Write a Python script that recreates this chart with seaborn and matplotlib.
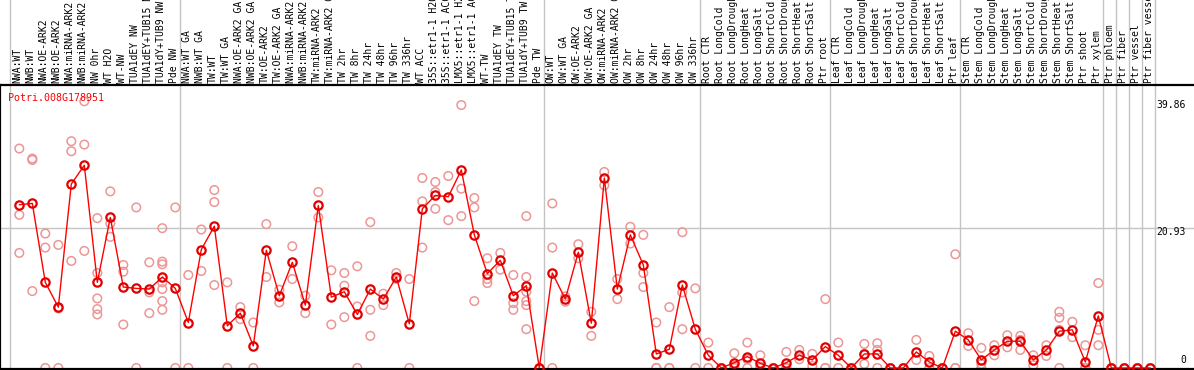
import numpy as np
import pandas as pd
import matplotlib
matplotlib.use('Agg')
import matplotlib.pyplot as plt
import matplotlib.transforms as mtransforms
import seaborn as sns

sns.set_style('white')
plt.rcParams['font.family'] = ['DejaVu Sans Mono', 'DejaVu Sans']

title = 'Potri.008G178951'

labels = [
    'NWA:WT', 'NWB:WT', 'NWA:OE-ARK2', 'NWB:OE-ARK2', 'NWA:miRNA-ARK2', 'NWB:miRNA-ARK2',
    'NW 0hr', 'WT H2O', 'WT-NW', 'TUA1dEY NW', 'TUA1dEY+TUB15 NW', 'TUA1dY+TUB9 NW', 'Pde NW',
    'NWA:WT GA', 'NWB:WT GA', 'TW:WT', 'TW:WT GA', 'NWA:OE-ARK2 GA', 'NWB:OE-ARK2 GA',
    'TW:OE-ARK2', 'TW:OE-ARK2 GA', 'NWA:miRNA-ARK2 GA', 'NWB:miRNA-ARK2 GA', 'TW:miRNA-ARK2',
    'TW:miRNA-ARK2 GA', 'TW 2hr', 'TW 8hr', 'TW 24hr', 'TW 48hr', 'TW 96hr', 'TW 336hr',
    'WT ACC', '35S::etr1-1 H2O', '35S::etr1-1 ACC', 'LMX5::etr1-1 H2O', 'LMX5::etr1-1 ACC',
    'WT-TW', 'TUA1dEY TW', 'TUA1dEY+TUB15 TW', 'TUA1dY+TUB9 TW', 'Pde TW',
    'OW:WT', 'OW:WT GA', 'OW:OE-ARK2', 'OW:OE-ARK2 GA', 'OW:miRNA-ARK2', 'OW:miRNA-ARK2 GA',
    'OW 2hr', 'OW 8hr', 'OW 24hr', 'OW 48hr', 'OW 96hr', 'OW 336hr',
    'Root CTR', 'Root LongCold', 'Root LongDrought', 'Root LongHeat', 'Root LongSalt',
    'Root ShortCold', 'Root ShortDrought', 'Root ShortHeat', 'Root ShortSalt', 'Ptr root',
    'Leaf CTR', 'Leaf LongCold', 'Leaf LongDrought', 'Leaf LongHeat', 'Leaf LongSalt',
    'Leaf ShortCold', 'Leaf ShortDrought', 'Leaf ShortHeat', 'Leaf ShortSalt', 'Ptr leaf',
    'Stem CTR', 'Stem LongCold', 'Stem LongDrought', 'Stem LongHeat', 'Stem LongSalt',
    'Stem ShortCold', 'Stem ShortDrought', 'Stem ShortHeat', 'Stem ShortSalt', 'Ptr shoot',
    'Ptr xylem', 'Ptr phloem', 'Ptr fiber', 'Ptr vessel', 'Ptr fiber vessel',
]

means = [
    24.4, 24.6, 12.8, 9.1, 27.5, 30.3, 12.8, 22.5, 12.1, 11.9, 11.8, 13.6, 11.9,
    6.8, 17.7, 21.2, 6.3, 8.2, 3.3, 17.6, 10.8, 15.8, 9.4, 24.3, 10.6, 11.4, 8.0,
    11.8, 10.3, 13.6, 6.6, 23.8, 25.8, 25.6, 29.6, 19.9, 14.1, 16.1, 10.8, 12.3, 0.0,
    14.2, 10.3, 17.3, 6.7, 28.4, 11.8, 19.9, 15.4, 2.1, 2.8, 12.4, 5.8,
    1.9, 0.0, 0.8, 1.7, 0.7, 0.0, 0.8, 1.9, 1.2, 3.2,
    1.9, 0.0, 2.1, 2.1, 0.0, 0.0, 2.4, 0.9, 0.0, 5.5,
    4.2, 1.2, 2.7, 4.0, 4.0, 1.2, 2.7, 5.5, 5.7, 0.9,
    7.8, 0.0, 0.0, 0.0, 0.0,
]

replicates = [
    [32.8, 22.9, 17.2], [31.3, 31.1, 11.5], [20.1, 18.0, 0], [18.4, 8.9, 0],
    [33.9, 32.4, 16.0], [39.86, 33.4, 17.5], [22.4, 14.2, 10.4, 8.8, 8.0],
    [26.4, 21.6, 19.6], [15.4, 14.4, 6.5], [24.0, 0], [15.8, 11.3, 8.2],
    [20.9, 15.9, 15.5, 12.8, 11.8, 10.0, 8.7], [24.0, 0],
    [13.9, 0], [20.7, 14.5], [26.6, 24.8, 12.4], [12.8, 0], [9.1, 7.3], [6.8, 0],
    [21.5, 13.6], [11.7, 9.8], [18.2, 13.3], [10.8, 8.2], [26.3, 22.5], [14.6, 6.5],
    [14.2, 12.3, 7.6], [15.2, 9.2, 0], [21.8, 8.7, 4.8], [11.1, 9.4], [14.2, 13.3],
    [13.3, 0], [28.4, 24.9, 18.0], [27.8, 26.3, 23.8], [28.7, 22.1],
    [39.3, 26.8, 22.7], [25.4, 24.0, 10.0], [16.4, 13.3, 12.7], [17.2, 14.7],
    [13.9, 9.7, 8.7], [22.7, 13.6, 11.4, 10.0, 9.4, 5.8], [0, 0],
    [24.6, 18.0, 0], [10.7, 9.9], [18.5, 16.4], [8.4, 4.8], [29.3, 27.3], [13.3, 10.3],
    [21.1, 18.6], [19.9, 14.2, 12.1], [6.8, 0, 0], [9.1, 0, 0], [20.3, 11.3, 5.8],
    [11.9, 0],
    [3.8, 0], [0, 0], [2.2, 0.3, 0], [3.8, 1.3, 0], [1.9, 0.2, 0], [0, 0],
    [2.4, 0, 0], [2.7, 1.3], [2.1, 0.3], [10.3, 0, 0],
    [3.8, 0], [0, 0], [3.6, 2.1, 0.6], [3.7, 2.7, 0], [0, 0], [0, 0],
    [4.2, 1.2], [1.8, 0], [0, 0], [17.0, 0, 0],
    [5.2, 3.3], [3.0, 0.6, 0], [3.4, 1.9], [4.9, 3.1], [4.8, 4.2, 2.7], [1.9, 0.4],
    [3.4, 1.8], [8.4, 7.5, 5.7, 0], [6.9, 4.6], [3.4, 0, 0],
    [12.7, 5.7, 3.4], [0, 0], [0, 0], [0, 0], [0, 0],
]

# group separators come after these columns
separators_after = [12, 40, 52, 62, 72, 83, 84, 85, 86, 87]
ytick_vals = [39.86, 20.93, 0]

idx = np.arange(len(labels))
rep_df = pd.DataFrame(
    [(i, v) for i, vals in enumerate(replicates) for v in vals],
    columns=['pos', 'value'],
)

fig = plt.figure(figsize=(11.94, 3.70), dpi=100)
ax = fig.add_axes([0, 1 / 370, 1, 284 / 370])

ax.axhline(20.93, color='#c4c4c4', lw=1, zorder=0)
ax.axvline(-0.72, ymin=0, ymax=1.31, color='#c4c4c4', lw=1, clip_on=False, zorder=0)
for s in separators_after:
    ax.axvline(s + 0.36, ymin=0, ymax=1.31, color='#c4c4c4', lw=1, clip_on=False, zorder=0)

sns.scatterplot(data=rep_df, x='pos', y='value', ax=ax, marker='o', s=38,
                facecolors='none', edgecolor='#ec9696', linewidth=1.1, zorder=2,
                legend=False)
sns.lineplot(x=idx, y=means, ax=ax, color='red', lw=1, marker='o', markersize=6,
             markerfacecolor='none', markeredgecolor='#e00000', markeredgewidth=1.6,
             zorder=3)

ax.set_xlim(-1.485, 90.36)
ax.set_ylim(-0.15, 42.3)
ax.set_xticks([])
ax.set_yticks([])
ax.set_xlabel('')
ax.set_ylabel('')
for side in ['left', 'bottom', 'top']:
    ax.spines[side].set_visible(True)
    ax.spines[side].set_color('black')
    ax.spines[side].set_linewidth(1.6)
ax.spines['right'].set_visible(False)

# column labels above the plot, cut off by the figure edge like the original
trans = mtransforms.blended_transform_factory(ax.transData, ax.transAxes)
for i, lab in enumerate(labels):
    ax.text(i - 0.12, 1.008, lab, transform=trans, rotation=90, ha='center',
            va='bottom', fontsize=7, color='black', clip_on=False)

ax.text(0.007, 0.972, title, transform=ax.transAxes, color='red', fontsize=7.2,
        ha='left', va='top')

for v in ytick_vals:
    va = 'bottom' if v == 0 else 'center'
    ax.text(89.75, v + (0.4 if v == 0 else -0.6), f'{v:g}' if v == 0 else f'{v:.2f}',
            ha='right', va=va, fontsize=7, color='black')

fig.savefig('out.png', dpi=100)
